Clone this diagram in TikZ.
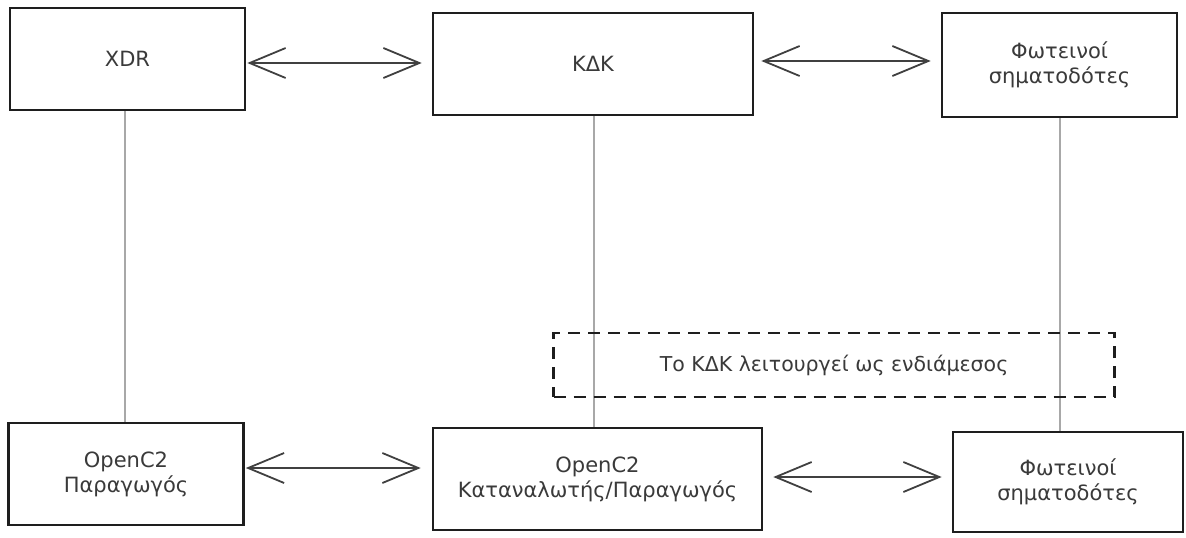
\documentclass[tikz,border=0pt]{standalone}
\usepackage{fontspec}
\setmainfont{DejaVu Sans}
\usetikzlibrary{arrows.meta}
\definecolor{ink}{HTML}{1E1E1E}
\definecolor{txt}{HTML}{3A3A3A}
\definecolor{lifeline}{HTML}{A8A8A8}
\begin{document}
\begin{tikzpicture}[x=1pt,y=-1pt,
  box/.style={draw=ink,line width=2.6pt,fill=white,align=center,
    text=txt,font=\fontsize{21}{25}\selectfont,inner sep=0pt},
  note/.style={draw=ink,line width=2.6pt,dash pattern=on 12pt off 8pt,
    align=center,text=txt,font=\fontsize{20.5}{25}\selectfont,inner sep=0pt},
  barb/.tip={Straight Barb[length=36pt,width=30pt,line width=1.8pt]},
  link/.style={draw=ink!85,line width=1.8pt,barb-barb},
  life/.style={draw=lifeline,line width=1.2pt}]
\useasboundingbox (0,0) rectangle (1186,538);
\fill[white] (0,0) rectangle (1186,538);

% vertical lifelines, drawn first so the boxes cover their ends
\coordinate (l1t) at (125,110);
\coordinate (l1b) at (125,423);
\coordinate (l2t) at (594,115);
\coordinate (l2b) at (594,428);
\coordinate (l3t) at (1060,117);
\coordinate (l3b) at (1060,432);
\draw[life] (l1t) -- (l1b);
\draw[life] (l2t) -- (l2b);
\draw[life] (l3t) -- (l3b);

% top row
\node[box,minimum width=235pt,minimum height=102pt] (xdr) at (127.5,59) {XDR};
\node[box,minimum width=320pt,minimum height=102pt] (kdk) at (593,64) {ΚΔΚ};
\node[box,minimum width=235pt,minimum height=104pt] (lights) at (1059.5,65) {Φωτεινοί\\σηματοδότες};

% mediator note
\node[note,minimum width=561pt,minimum height=64pt] (mid) at (834,365) {Το ΚΔΚ λειτουργεί ως ενδιάμεσος};

% bottom row
\node[box,minimum width=235pt,minimum height=102pt] (prod) at (126,474) {OpenC2\\Παραγωγός};
\node[box,minimum width=329pt,minimum height=102pt] (cons) at (597.5,479) {OpenC2\\Καταναλωτής/Παραγωγός};
\node[box,minimum width=230pt,minimum height=100pt] (lights2) at (1068,482) {Φωτεινοί\\σηματοδότες};

% two-way links
\draw[link,shorten <=1pt,shorten >=10pt] ([yshift=-4pt]xdr.east) -- ([yshift=1pt]kdk.west);
\draw[link,shorten <=7pt,shorten >=10pt] ([yshift=3pt]kdk.east) -- ([yshift=4pt]lights.west);
\draw[link,shorten <=1pt,shorten >=11pt] ([yshift=6pt]prod.east) -- ([yshift=11pt]cons.west);
\draw[link,shorten <=10pt,shorten >=10pt] ([yshift=2pt]cons.east) -- ([yshift=5pt]lights2.west);
\end{tikzpicture}
\end{document}
